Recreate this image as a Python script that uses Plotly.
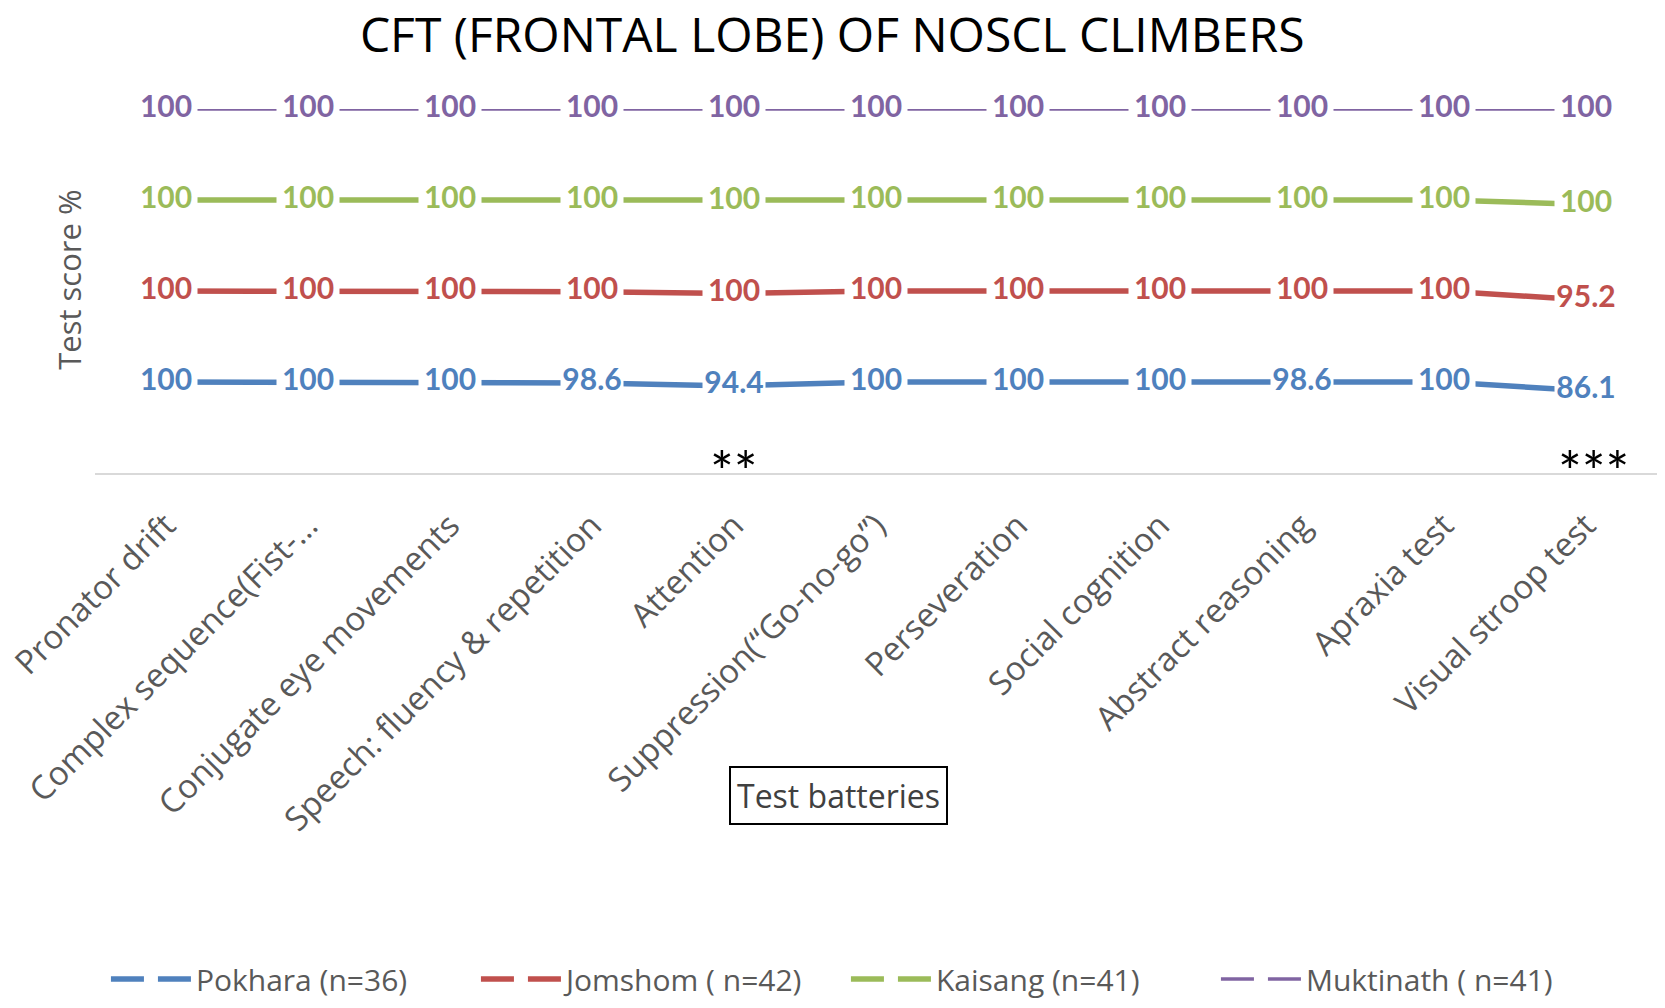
import plotly.graph_objects as go

categories = ["Pronator drift", "Complex sequence(Fist-…", "Conjugate eye movements",
              "Speech: fluency & repetition", "Attention", "Suppression(“Go-no-go”)",
              "Perseveration", "Social cognition", "Abstract reasoning", "Apraxia test",
              "Visual stroop test"]

pokhara = [100, 100, 100, 98.6, 94.4, 100, 100, 100, 98.6, 100, 86.1]
jomshom = [100, 100, 100, 100, 100, 100, 100, 100, 100, 100, 95.2]
kaisang = [100, 100, 100, 100, 100, 100, 100, 100, 100, 100, 100]
muktinath = [100, 100, 100, 100, 100, 100, 100, 100, 100, 100, 100]

series_names = ["Pokhara (n=36)", "Jomshom ( n=42)", "Kaisang (n=41)", "Muktinath ( n=41)"]
significance = {"Attention": "**", "Visual stroop test": "***"}

colors = ["#4F81BD", "#C0504D", "#9BBB59", "#8064A2"]
widths = [5.5, 5.5, 5.5, 3.5]
FONT = "Open Sans"
LABEL_FONT = "Lato"
series = [pokhara, jomshom, kaisang, muktinath]

fig = go.Figure()
# 100% stacked lines (Excel "100% stacked line")
# the small white marker only shows in the legend, as the gap in "— —"
for i, (name, vals) in enumerate(zip(series_names, series)):
    fig.add_trace(go.Scatter(
        x=categories, y=vals, name=name, mode="lines+markers",
        stackgroup="lines", groupnorm="percent" if i == 0 else None, fill="none",
        line=dict(color=colors[i], width=widths[i]),
        marker=dict(symbol="square", size=14, color="white", line=dict(width=0)),
        hoverinfo="skip",
    ))

# data labels, same stacking; white bar behind each label cuts the line like Excel does
for i, (name, vals) in enumerate(zip(series_names, series)):
    fig.add_trace(go.Scatter(
        x=categories, y=vals, name=name, mode="markers+text", showlegend=False,
        stackgroup="labels", groupnorm="percent" if i == 0 else None, fill="none",
        line=dict(width=0),
        marker=dict(symbol="line-ew", size=45, color="white",
                    line=dict(color="white", width=26)),
        text=[f"{v:g}" for v in vals], textposition="middle center",
        textfont=dict(family=LABEL_FONT, size=30, color=colors[i], weight="bold"),
        cliponaxis=False, hoverinfo="x+text",
    ))

for cat, stars in significance.items():
    fig.add_annotation(x=cat, y=0, xref="x", yref="y", text=stars, showarrow=False,
                       yanchor="middle", yshift=3, xshift=7 if len(stars) > 2 else 0,
                       font=dict(family=LABEL_FONT, size=56, color="black"))

fig.add_annotation(x=-0.0166, y=0.531, xref="paper", yref="paper", text="Test score %",
                   textangle=-90, showarrow=False, xanchor="center", yanchor="middle",
                   font=dict(family=FONT, size=31, color="#595959"))
fig.add_annotation(x=0.476, y=-0.885, xref="paper", yref="paper", text="Test batteries",
                   showarrow=False, xanchor="center", yanchor="middle",
                   bordercolor="black", borderwidth=2, borderpad=6,
                   bgcolor="white", font=dict(family=FONT, size=32, color="#404040"))

fig.update_layout(
    width=1665, height=1008,
    margin=dict(l=87, r=16, t=101, b=534),
    paper_bgcolor="white", plot_bgcolor="white",
    title=dict(text="CFT (FRONTAL LOBE) OF NOSCL CLIMBERS", x=0.495, xanchor="center",
               y=0.973, yanchor="middle", yref="container",
               font=dict(family=FONT, size=48, color="black")),
    xaxis=dict(type="category", range=[-0.5, 10.5], showgrid=False, zeroline=False,
               showline=True, linecolor="#D9D9D9", linewidth=2, ticks="",
               tickangle=-45, ticklabelstandoff=18,
               tickfont=dict(family=FONT, size=33, color="#595959"),
               automargin=False),
    yaxis=dict(range=[0, 100], showgrid=False, zeroline=False, showline=False,
               showticklabels=False, automargin=False),
    legend=dict(orientation="h", x=0.007, xanchor="left", y=-1.39, yanchor="middle",
                itemwidth=80, entrywidth=275, entrywidthmode="pixels",
                font=dict(family=FONT, size=30, color="#595959")),
    showlegend=True,
)

fig.write_html("out.html")
